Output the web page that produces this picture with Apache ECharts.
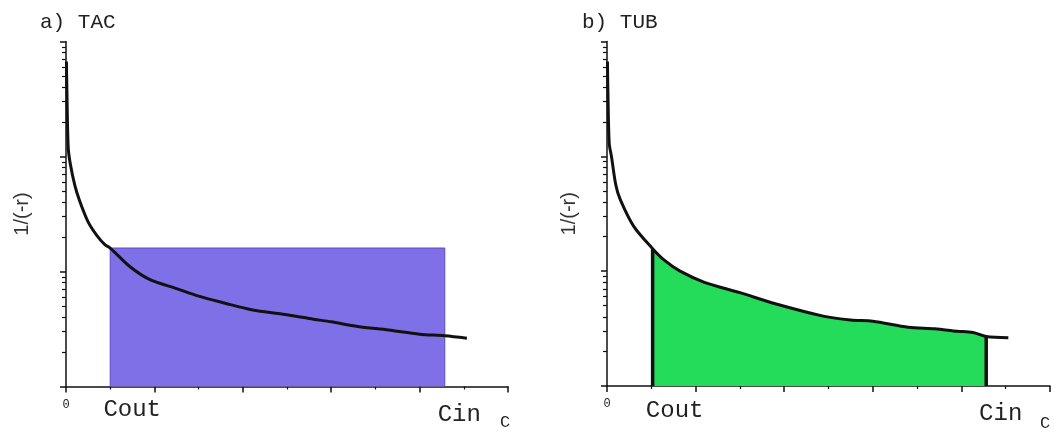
<!DOCTYPE html>
<html>
<head>
<meta charset="utf-8">
<script src="https://cdn.jsdelivr.net/npm/echarts@6/dist/echarts.min.js"></script>
<style>
  html, body { margin: 0; padding: 0; background: #fff; }
  #chart { width: 1055px; height: 432px; }
</style>
</head>
<body>
<div id="chart"></div>
<script>
// a) TAC : curve 1/(-r) versus C (log y axis)
const tacC = [0.01, 0.02, 0.05, 0.1, 0.2, 0.3, 0.5, 0.7, 0.88, 1.0, 1.45, 1.9, 2.5, 3.0, 3.6, 4.2, 5.0, 5.6, 6.0, 6.6, 7.3, 8.0, 8.57, 9.07];
const tacR = [670, 380, 120, 85, 56, 42, 27, 20.5, 17.1, 16.0, 11.0, 8.5, 7.1, 6.1, 5.3, 4.65, 4.2, 3.85, 3.65, 3.33, 3.1, 2.85, 2.76, 2.63];
const tacCout = 1.0;
const tacCin = 8.57;

// b) TUB
const tubC = [0.01, 0.02, 0.05, 0.1, 0.2, 0.3, 0.6, 1.03, 1.3, 1.65, 2.2, 3.0, 3.8, 4.88, 5.5, 6.0, 6.8, 7.4, 7.9, 8.26, 8.56, 9.06];
const tubR = [670, 380, 130, 100, 56, 42, 24.7, 15.7, 12.4, 10, 8.0, 6.5, 5.2, 4.06, 3.75, 3.67, 3.25, 3.15, 3.0, 2.92, 2.7, 2.63];
const tubCout = 1.03;
const tubCin = 8.56;

const majorY = [1, 10, 100, 1000];
const minorY = [2, 3, 4, 5, 6, 7, 8, 9, 20, 30, 40, 50, 60, 70, 80, 90, 200, 300, 400, 500, 600, 700, 800, 900];
const panelTitles = ['a) TAC', 'b) TUB'];

const pairs = (xs, ys) => xs.map((x, i) => [x, ys[i]]);
const tacCurve = pairs(tacC, tacR);
const tubCurve = pairs(tubC, tubR);
const tacTop = tacR[tacC.indexOf(tacCout)];
const tubFill = tubCurve.filter(p => p[0] >= tubCout && p[0] <= tubCin);
const tubAtCout = tubR[tubC.indexOf(tubCout)];
const tubAtCin = tubR[tubC.indexOf(tubCin)];

const mono = 'Liberation Mono';
const ink = '#111';

function mainX(grid, nameGap, namePad) {
  return {
    type: 'value', gridIndex: grid, position: 'bottom', min: 0, max: 10, interval: 2,
    axisLine: {lineStyle: {color: ink, width: 1.5}},
    axisTick: {length: 6, lineStyle: {color: ink, width: 1.5}},
    minorTick: {show: true, splitNumber: 2, length: 3, lineStyle: {color: ink, width: 1.2}},
    splitLine: {show: false},
    axisLabel: {customValues: [0], formatter: () => '0', fontFamily: mono, fontSize: 12, color: '#222', margin: 12},
    name: 'C', nameLocation: 'end', nameGap: nameGap,
    nameTextStyle: {fontFamily: mono, fontSize: 17, color: '#222', verticalAlign: 'top', padding: [namePad, 0, 0, 0]}
  };
}

function labelX(grid, cout, cin, margin, cinPad) {
  return {
    type: 'value', gridIndex: grid, position: 'bottom', min: 0, max: 10,
    axisLine: {show: false}, axisTick: {show: false}, splitLine: {show: false},
    axisLabel: {
      customValues: [cout, cin], margin: margin, verticalAlign: 'top',
      formatter: v => (v === cout ? '{o|Cout}' : '{i|Cin}'),
      rich: {
        o: {fontFamily: mono, fontSize: 24, lineHeight: 24, color: '#222', padding: [0, 0, 0, 44]},
        i: {fontFamily: mono, fontSize: 24, lineHeight: 24, color: '#222', padding: [cinPad, 0, 0, 29]}
      }
    }
  };
}

function mainY(grid, nameGap) {
  return {
    type: 'log', gridIndex: grid, min: 1, max: 1000, logBase: 10,
    axisLine: {lineStyle: {color: ink, width: 1.5}},
    axisTick: {customValues: majorY, length: 6, lineStyle: {color: ink, width: 1.5}},
    axisLabel: {show: false}, splitLine: {show: false},
    name: '1/(-r)', nameLocation: 'middle', nameGap: nameGap,
    nameTextStyle: {fontFamily: 'Liberation Sans', fontSize: 20, color: '#333'}
  };
}

function minorYAxis(grid) {
  return {
    type: 'log', gridIndex: grid, position: 'left', min: 1, max: 1000, logBase: 10,
    axisLine: {show: false},
    axisTick: {customValues: minorY, length: 4, lineStyle: {color: ink, width: 1.2}},
    axisLabel: {show: false}, splitLine: {show: false}
  };
}

const chart = echarts.init(document.getElementById('chart'));
chart.setOption({
  animation: false,
  title: [
    {text: panelTitles[0], left: 40, top: 12, padding: 0, textStyle: {fontFamily: mono, fontSize: 21, fontWeight: 'normal', color: '#222'}},
    {text: panelTitles[1], left: 582, top: 12, padding: 0, textStyle: {fontFamily: mono, fontSize: 21, fontWeight: 'normal', color: '#222'}}
  ],
  grid: [
    {left: 66, top: 41.5, width: 442, height: 345},
    {left: 607, top: 41.5, width: 443, height: 345}
  ],
  xAxis: [mainX(0, -8, 27), labelX(0, tacCout, tacCin, 11, 11), mainX(1, -10, 29), labelX(1, tubCout, tubCin, 13, 5)],
  yAxis: [mainY(0, 34), minorYAxis(0), mainY(1, 28), minorYAxis(1)],
  series: [
    {
      type: 'line', xAxisIndex: 0, yAxisIndex: 0, showSymbol: false, silent: true,
      data: [[tacCout, 1], [tacCout, tacTop], [tacCin, tacTop], [tacCin, 1]],
      lineStyle: {color: '#5a4cc4', width: 1},
      areaStyle: {color: '#8070e8', opacity: 1, origin: 'start'}
    },
    {
      type: 'line', xAxisIndex: 0, yAxisIndex: 0, showSymbol: false, smooth: 0.3,
      data: tacCurve, lineStyle: {color: ink, width: 3}
    },
    {
      type: 'line', xAxisIndex: 2, yAxisIndex: 2, showSymbol: false, smooth: 0.3, silent: true,
      data: tubFill, lineStyle: {width: 0},
      areaStyle: {color: '#25dc5a', opacity: 1, origin: 'start'}
    },
    {
      type: 'line', xAxisIndex: 2, yAxisIndex: 2, showSymbol: false,
      data: [[tubCout, 1], [tubCout, tubAtCout]], lineStyle: {color: ink, width: 3.5}
    },
    {
      type: 'line', xAxisIndex: 2, yAxisIndex: 2, showSymbol: false,
      data: [[tubCin, 1], [tubCin, tubAtCin]], lineStyle: {color: ink, width: 3.5}
    },
    {
      type: 'line', xAxisIndex: 2, yAxisIndex: 2, showSymbol: false, smooth: 0.3,
      data: tubCurve, lineStyle: {color: ink, width: 3}
    }
  ]
});
</script>
</body>
</html>
